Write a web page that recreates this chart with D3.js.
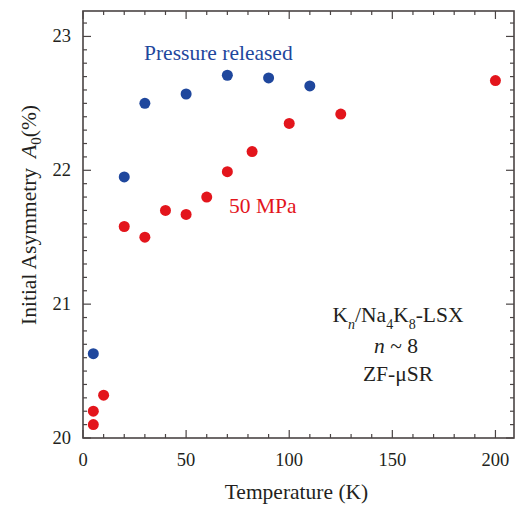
<!DOCTYPE html>
<html>
<head>
<meta charset="utf-8">
<script src="https://cdn.jsdelivr.net/npm/d3@7"></script>
<style>
  body { margin: 0; background: #fff; }
</style>
</head>
<body>
<div id="chart"></div>
<script>
// data
const releasedT = [5, 20, 30, 50, 70, 90, 110];
const releasedA = [20.63, 21.95, 22.50, 22.57, 22.71, 22.69, 22.63];
const mpaT = [5, 5, 10, 20, 30, 40, 50, 60, 70, 82, 100, 125, 200];
const mpaA = [20.10, 20.20, 20.32, 21.58, 21.50, 21.70, 21.67, 21.80, 21.99, 22.14, 22.35, 22.42, 22.67];
const xTicks = [0, 50, 100, 150, 200];
const yTicks = [20, 21, 22, 23];

const width = 519, height = 506;
const margin = { left: 83, right: 5, top: 11, bottom: 68 };
const blue = "#1f479d", red = "#e3151c", axisColor = "#4a4444", ink = "#231f20";
const serif = "'Liberation Serif', 'Times New Roman', serif";
const fs = 21.5;

const svg = d3.select("#chart").append("svg")
    .attr("width", width)
    .attr("height", height)
    .attr("font-family", serif);

const x = d3.scaleLinear().domain([0, 209]).range([margin.left, width - margin.right]);
const y = d3.scaleLinear().domain([20, 23.19]).range([height - margin.bottom, margin.top]);

const x0 = x.range()[0], x1 = x.range()[1];
const y0 = y.range()[0], y1 = y.range()[1];

const xMinor = d3.range(0, 210, 10);
const yMinor = d3.range(200, 232, 1).map(v => v / 10);

// ticks on all four sides, pointing inward
const tickG = svg.append("g").attr("stroke", axisColor).attr("stroke-width", 1.2);
xMinor.forEach(v => {
    const len = v % 50 === 0 ? 8 : 4;
    tickG.append("line").attr("x1", x(v)).attr("x2", x(v)).attr("y1", y0).attr("y2", y0 - len);
    tickG.append("line").attr("x1", x(v)).attr("x2", x(v)).attr("y1", y1).attr("y2", y1 + len);
});
yMinor.forEach(v => {
    const len = Math.abs(v - Math.round(v)) < 1e-6 ? 8 : 4;
    tickG.append("line").attr("y1", y(v)).attr("y2", y(v)).attr("x1", x0).attr("x2", x0 + len);
    tickG.append("line").attr("y1", y(v)).attr("y2", y(v)).attr("x1", x1).attr("x2", x1 - len);
});

svg.append("rect")
    .attr("x", x0).attr("y", y1)
    .attr("width", x1 - x0).attr("height", y0 - y1)
    .attr("fill", "none")
    .attr("stroke", axisColor)
    .attr("stroke-width", 1.6);

// tick labels
svg.append("g").selectAll("text")
    .data(xTicks)
    .enter()
    .append("text")
    .attr("x", d => x(d))
    .attr("y", y0 + 28)
    .attr("text-anchor", "middle")
    .attr("font-size", 18.5)
    .attr("fill", ink)
    .text(d => d);

svg.append("g").selectAll("text")
    .data(yTicks)
    .enter()
    .append("text")
    .attr("x", x0 - 12)
    .attr("y", d => y(d) + 6)
    .attr("text-anchor", "end")
    .attr("font-size", 18.5)
    .attr("fill", ink)
    .text(d => d);

// axis titles
svg.append("text")
    .attr("x", (x0 + x1) / 2 - 2)
    .attr("y", 499)
    .attr("text-anchor", "middle")
    .attr("font-size", fs)
    .attr("fill", ink)
    .text("Temperature (K)");

const yTitle = svg.append("text")
    .attr("transform", "translate(36,215) rotate(-90)")
    .attr("text-anchor", "middle")
    .attr("font-size", fs)
    .attr("fill", ink);
yTitle.append("tspan").text("Initial Asymmetry");
yTitle.append("tspan").attr("font-style", "italic").attr("dx", 10).text("A");
yTitle.append("tspan").attr("font-size", 15).attr("dy", 5).text("0");
yTitle.append("tspan").attr("dy", -5).text("(%)");

// points
svg.append("g").selectAll("circle")
    .data(mpaT.map((t, i) => [t, mpaA[i]]))
    .enter()
    .append("circle")
    .attr("cx", d => x(d[0]))
    .attr("cy", d => y(d[1]))
    .attr("r", 5.5)
    .attr("fill", red);

svg.append("g").selectAll("circle")
    .data(releasedT.map((t, i) => [t, releasedA[i]]))
    .enter()
    .append("circle")
    .attr("cx", d => x(d[0]))
    .attr("cy", d => y(d[1]))
    .attr("r", 5.5)
    .attr("fill", blue);

// labels
svg.append("text")
    .attr("x", 144).attr("y", 60)
    .attr("font-size", fs)
    .attr("fill", blue)
    .text("Pressure released");

svg.append("text")
    .attr("x", 229).attr("y", 213)
    .attr("font-size", fs)
    .attr("fill", red)
    .text("50 MPa");

// sample annotation
const note = svg.append("g").attr("font-size", fs).attr("fill", ink).attr("text-anchor", "middle");
const l1 = note.append("text").attr("x", 398).attr("y", 322);
l1.append("tspan").text("K");
l1.append("tspan").attr("font-size", 14).attr("font-style", "italic").attr("dy", 7).text("n");
l1.append("tspan").attr("dy", -7).text("/Na");
l1.append("tspan").attr("font-size", 14).attr("dy", 7).text("4");
l1.append("tspan").attr("dy", -7).text("K");
l1.append("tspan").attr("font-size", 14).attr("dy", 7).text("8");
l1.append("tspan").attr("dy", -7).text("-LSX");

const l2 = note.append("text").attr("x", 396).attr("y", 353);
l2.append("tspan").attr("font-style", "italic").text("n");
l2.append("tspan").text(" ~ 8");

note.append("text").attr("x", 398).attr("y", 381).text("ZF-μSR");
</script>
</body>
</html>
